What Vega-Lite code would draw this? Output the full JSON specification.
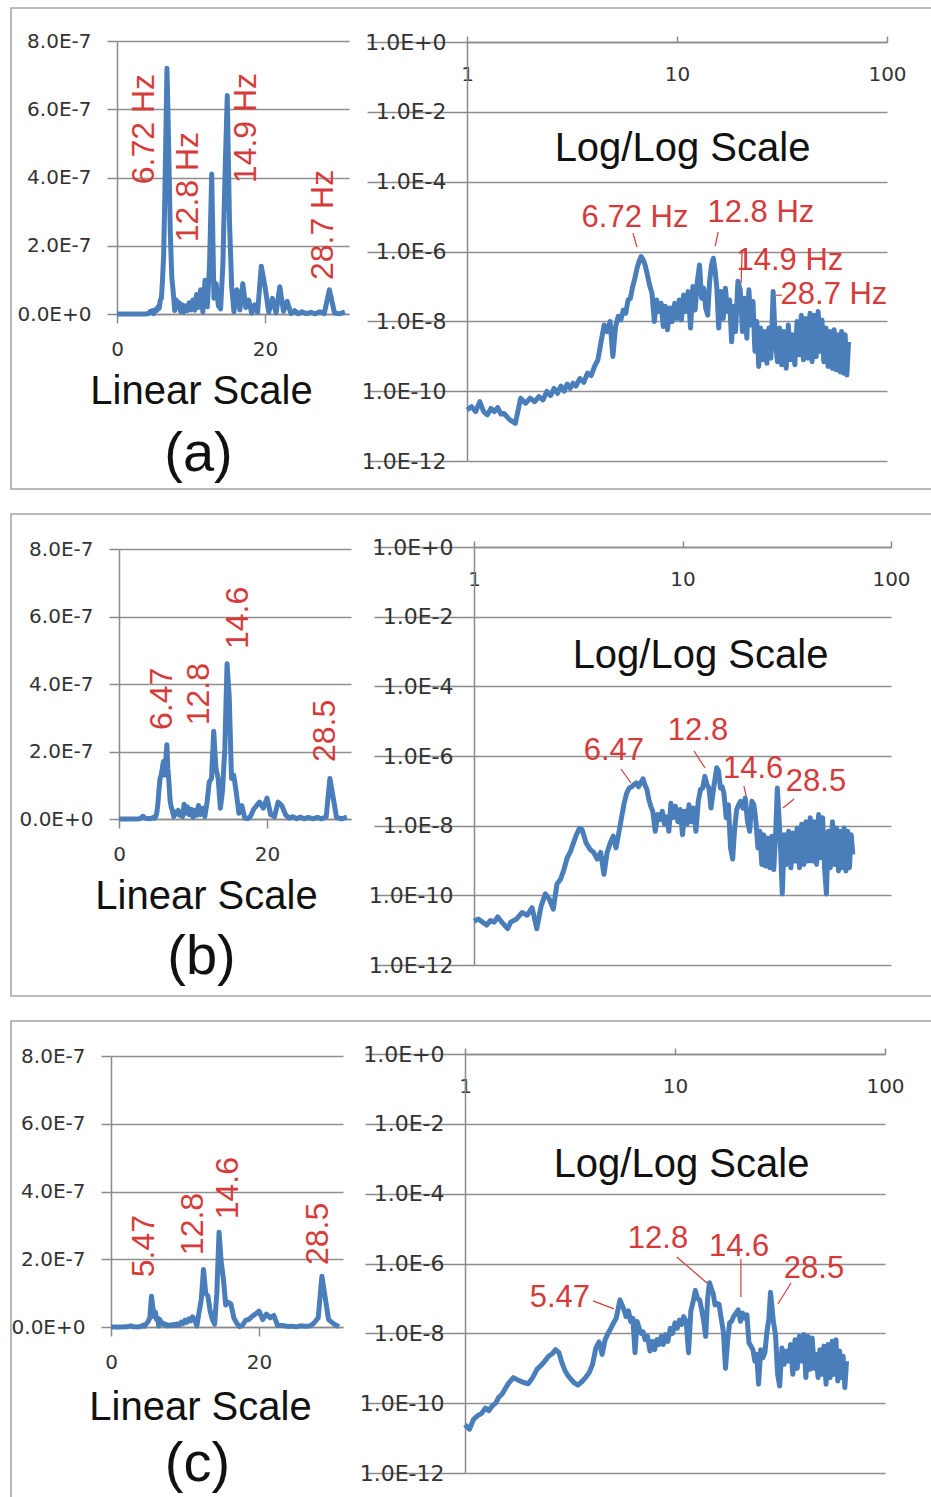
{
"$schema": "https://vega.github.io/schema/vega-lite/v6.json",
"background": "white",
"padding": {"left": 10, "top": 7, "right": 0, "bottom": 0},
"spacing": 25,
"bounds": "flush",
"config": {
  "view": {"stroke": "#a3a3a3", "strokeWidth": 1.5},
  "axis": {"labelFont": "DejaVu Sans", "labelFontSize": 20, "labelColor": "#333333", "domainColor": "#8a8a8a", "domainWidth": 1.5, "tickColor": "#8a8a8a", "tickWidth": 1.5, "gridColor": "#8f8f8f", "gridWidth": 1.5, "titleFont": "Liberation Sans", "titleFontWeight": "normal", "titleColor": "#111111", "labelFlush": false}
},
"datasets": {
"a": [{"f":0,"p":3e-11},{"f":1,"p":2.9e-11},{"f":1.05,"p":3.6e-11},{"f":1.1,"p":2.6e-11},{"f":1.15,"p":5.0e-11},{"f":1.2,"p":2.6e-11},{"f":1.25,"p":2.1e-11},{"f":1.3,"p":3.2e-11},{"f":1.35,"p":2.6e-11},{"f":1.4,"p":3.4e-11},{"f":1.45,"p":2.2e-11},{"f":1.5,"p":2.3e-11},{"f":1.6,"p":1.5e-11},{"f":1.7,"p":1.2e-11},{"f":1.8,"p":6.3e-11},{"f":1.9,"p":4.5e-11},{"f":2.0,"p":6.3e-11},{"f":2.1,"p":5.0e-11},{"f":2.2,"p":7.0e-11},{"f":2.3,"p":5.6e-11},{"f":2.4,"p":9.8e-11},{"f":2.5,"p":7.5e-11},{"f":2.6,"p":1.2e-10},{"f":2.7,"p":8.7e-11},{"f":2.8,"p":1.4e-10},{"f":2.9,"p":1.0e-10},{"f":3.0,"p":1.6e-10},{"f":3.1,"p":1.2e-10},{"f":3.2,"p":1.7e-10},{"f":3.3,"p":1.4e-10},{"f":3.45,"p":2.3e-10},{"f":3.6,"p":1.8e-10},{"f":3.75,"p":3.3e-10},{"f":3.9,"p":2.8e-10},{"f":4.05,"p":5.1e-10},{"f":4.2,"p":7.9e-10},{"f":4.35,"p":2.6e-9},{"f":4.5,"p":7.9e-9},{"f":4.65,"p":5.1e-9},{"f":4.8,"p":9.9e-9},{"f":4.95,"p":9.8e-10},{"f":5.1,"p":7.1e-9},{"f":5.25,"p":1.4e-8},{"f":5.4,"p":1.1e-8},{"f":5.55,"p":2.1e-8},{"f":5.7,"p":1.7e-8},{"f":5.85,"p":4.1e-8},{"f":6.0,"p":4.6e-8},{"f":6.15,"p":9.9e-8},{"f":6.3,"p":1.7e-7},{"f":6.45,"p":3.3e-7},{"f":6.6,"p":5.2e-7},{"f":6.75,"p":7.2e-7},{"f":6.9,"p":5.8e-7},{"f":7.05,"p":4.1e-7},{"f":7.2,"p":2.4e-7},{"f":7.4,"p":1.1e-7},{"f":7.6,"p":6.4e-8},{"f":7.8,"p":9.9e-9},{"f":8.0,"p":4.1e-8},{"f":8.2,"p":1.9e-8},{"f":8.4,"p":3.3e-8},{"f":8.6,"p":7.1e-9},{"f":8.8,"p":2.7e-8},{"f":9.0,"p":5.7e-9},{"f":9.25,"p":2.4e-8},{"f":9.5,"p":9.9e-9},{"f":9.75,"p":3.3e-8},{"f":10.0,"p":1.2e-8},{"f":10.25,"p":4.1e-8},{"f":10.5,"p":1.1e-8},{"f":10.75,"p":5.7e-8},{"f":11.0,"p":1.9e-8},{"f":11.3,"p":7.1e-8},{"f":11.6,"p":6.4e-9},{"f":11.9,"p":9.9e-8},{"f":12.2,"p":2.1e-8},{"f":12.5,"p":1.4e-7},{"f":12.8,"p":4.1e-7},{"f":13.1,"p":4.6e-8},{"f":13.4,"p":8.9e-8},{"f":13.7,"p":2.4e-8},{"f":14.0,"p":1.5e-8},{"f":14.3,"p":1.4e-7},{"f":14.6,"p":4.1e-7},{"f":14.9,"p":6.4e-7},{"f":15.2,"p":2.7e-7},{"f":15.5,"p":8.0e-8},{"f":15.8,"p":6.4e-9},{"f":16.2,"p":7.1e-8},{"f":16.6,"p":1.2e-8},{"f":17.0,"p":8.9e-8},{"f":17.4,"p":1.9e-8},{"f":17.8,"p":4.1e-8},{"f":18.2,"p":2.6e-9},{"f":18.6,"p":2.7e-8},{"f":19.0,"p":5.1e-9},{"f":19.5,"p":1.4e-7},{"f":20.0,"p":8.0e-8},{"f":20.5,"p":5.1e-9},{"f":21.0,"p":4.6e-8},{"f":21.5,"p":3.3e-9},{"f":22.0,"p":8.0e-8},{"f":22.5,"p":7.9e-9},{"f":23.0,"p":3.7e-8},{"f":23.5,"p":1.4e-9},{"f":24.0,"p":9.9e-9},{"f":24.5,"p":5.1e-10},{"f":25.0,"p":6.4e-9},{"f":25.6,"p":7.9e-10},{"f":26.2,"p":5.1e-9},{"f":26.8,"p":6.3e-10},{"f":27.4,"p":6.4e-9},{"f":28.0,"p":8.8e-10},{"f":28.7,"p":7.1e-8},{"f":29.4,"p":2.6e-9},{"f":30.1,"p":7.0e-10},{"f":30.8,"p":6.4e-9},{"f":31.5,"p":5.7e-10},{"f":32.3,"p":5.1e-9},{"f":33.1,"p":4.5e-10},{"f":33.9,"p":7.9e-9},{"f":34.7,"p":7.9e-10},{"f":35.5,"p":4.1e-9},{"f":36.4,"p":5.7e-10},{"f":37.3,"p":9.9e-9},{"f":38.2,"p":1.1e-9},{"f":39.1,"p":1.5e-8},{"f":40.0,"p":7.9e-10},{"f":41.0,"p":1.2e-8},{"f":42.0,"p":8.8e-10},{"f":43.0,"p":1.7e-8},{"f":44.0,"p":7.0e-10},{"f":45.0,"p":1.5e-8},{"f":46.0,"p":9.8e-10},{"f":47.0,"p":1.9e-8},{"f":48.0,"p":1.4e-9},{"f":49.0,"p":1.1e-8},{"f":50.0,"p":7.0e-10},{"f":51.2,"p":6.4e-9},{"f":52.4,"p":5.1e-10},{"f":53.6,"p":5.1e-9},{"f":54.8,"p":4.5e-10},{"f":56.0,"p":5.7e-9},{"f":57.2,"p":4.1e-10},{"f":58.4,"p":4.1e-9},{"f":59.6,"p":3.6e-10},{"f":60.8,"p":5.1e-9},{"f":62.0,"p":3.3e-10},{"f":63.2,"p":4.1e-9},{"f":64.4,"p":2.9e-10},{"f":65.6,"p":2.6e-9}],
"b": [{"f":0,"p":1.8e-11},{"f":1,"p":1.8e-11},{"f":1.05,"p":2.1e-11},{"f":1.1,"p":1.7e-11},{"f":1.15,"p":1.4e-11},{"f":1.2,"p":1.9e-11},{"f":1.25,"p":1.7e-11},{"f":1.3,"p":2.4e-11},{"f":1.35,"p":1.8e-11},{"f":1.4,"p":1.4e-11},{"f":1.45,"p":1.1e-11},{"f":1.5,"p":1.7e-11},{"f":1.6,"p":2.1e-11},{"f":1.7,"p":3.2e-11},{"f":1.8,"p":2.7e-11},{"f":1.9,"p":4.4e-11},{"f":2.0,"p":1.1e-11},{"f":2.1,"p":5.0e-11},{"f":2.2,"p":1.1e-10},{"f":2.3,"p":7.7e-11},{"f":2.4,"p":4.0e-11},{"f":2.5,"p":2.1e-10},{"f":2.6,"p":2.9e-10},{"f":2.7,"p":5.5e-10},{"f":2.8,"p":1.2e-9},{"f":2.9,"p":1.8e-9},{"f":3.0,"p":3.2e-9},{"f":3.1,"p":5.5e-9},{"f":3.2,"p":8.2e-9},{"f":3.3,"p":7.7e-9},{"f":3.45,"p":3.2e-9},{"f":3.6,"p":2.1e-9},{"f":3.75,"p":1.7e-9},{"f":3.9,"p":1.1e-9},{"f":4.05,"p":1.7e-9},{"f":4.2,"p":4.0e-10},{"f":4.35,"p":1.7e-9},{"f":4.5,"p":3.2e-9},{"f":4.65,"p":5.0e-9},{"f":4.8,"p":2.3e-9},{"f":4.95,"p":6.2e-9},{"f":5.1,"p":1.7e-8},{"f":5.25,"p":4.4e-8},{"f":5.4,"p":8.6e-8},{"f":5.55,"p":1.2e-7},{"f":5.7,"p":1.3e-7},{"f":5.85,"p":1.5e-7},{"f":6.0,"p":1.7e-7},{"f":6.15,"p":1.3e-7},{"f":6.3,"p":1.7e-7},{"f":6.47,"p":2.2e-7},{"f":6.6,"p":1.5e-7},{"f":6.75,"p":1.1e-7},{"f":6.9,"p":5.5e-8},{"f":7.05,"p":3.6e-8},{"f":7.2,"p":2.6e-8},{"f":7.4,"p":6.9e-9},{"f":7.6,"p":2.1e-8},{"f":7.8,"p":1.5e-8},{"f":8.0,"p":2.6e-8},{"f":8.2,"p":1.1e-8},{"f":8.4,"p":1.8e-8},{"f":8.6,"p":6.9e-9},{"f":8.8,"p":4.4e-8},{"f":9.0,"p":1.7e-8},{"f":9.25,"p":3.6e-8},{"f":9.5,"p":1.3e-8},{"f":9.75,"p":2.9e-8},{"f":10.0,"p":5.5e-9},{"f":10.25,"p":2.6e-8},{"f":10.5,"p":1.1e-8},{"f":10.75,"p":4.0e-8},{"f":11.0,"p":1.3e-8},{"f":11.3,"p":3.2e-8},{"f":11.6,"p":6.9e-9},{"f":11.9,"p":5.0e-8},{"f":12.2,"p":1.1e-7},{"f":12.5,"p":1.2e-7},{"f":12.8,"p":2.6e-7},{"f":13.1,"p":1.5e-7},{"f":13.4,"p":1.2e-7},{"f":13.7,"p":3.2e-8},{"f":14.0,"p":8.6e-8},{"f":14.3,"p":2.1e-7},{"f":14.6,"p":4.6e-7},{"f":14.9,"p":3.6e-7},{"f":15.2,"p":1.2e-7},{"f":15.5,"p":1.3e-7},{"f":15.8,"p":8.6e-8},{"f":16.2,"p":1.7e-8},{"f":16.6,"p":4.0e-8},{"f":17.0,"p":2.3e-9},{"f":17.4,"p":1.1e-9},{"f":17.8,"p":8.6e-9},{"f":18.2,"p":2.9e-8},{"f":18.6,"p":4.0e-8},{"f":19.0,"p":5.0e-8},{"f":19.5,"p":3.2e-8},{"f":20.0,"p":6.2e-8},{"f":20.5,"p":1.3e-8},{"f":21.0,"p":6.9e-9},{"f":21.5,"p":5.0e-8},{"f":22.0,"p":4.0e-8},{"f":22.5,"p":1.3e-8},{"f":23.0,"p":2.3e-9},{"f":23.5,"p":6.9e-9},{"f":24.0,"p":7.7e-10},{"f":24.5,"p":5.5e-9},{"f":25.0,"p":6.9e-10},{"f":25.6,"p":4.4e-9},{"f":26.2,"p":6.2e-10},{"f":26.8,"p":5.0e-9},{"f":27.4,"p":5.5e-10},{"f":28.0,"p":6.9e-9},{"f":28.5,"p":1.2e-7},{"f":29.4,"p":4.4e-9},{"f":30.1,"p":1.1e-10},{"f":30.8,"p":5.5e-9},{"f":31.5,"p":7.7e-10},{"f":32.3,"p":6.9e-9},{"f":33.1,"p":6.2e-10},{"f":33.9,"p":6.2e-9},{"f":34.7,"p":9.6e-10},{"f":35.5,"p":8.6e-9},{"f":36.4,"p":6.2e-10},{"f":37.3,"p":1.1e-8},{"f":38.2,"p":7.7e-10},{"f":39.1,"p":1.3e-8},{"f":40.0,"p":9.6e-10},{"f":41.0,"p":1.7e-8},{"f":42.0,"p":9.6e-10},{"f":43.0,"p":1.3e-8},{"f":44.0,"p":7.7e-10},{"f":45.0,"p":2.1e-8},{"f":46.0,"p":1.2e-9},{"f":47.0,"p":1.7e-8},{"f":48.0,"p":6.2e-10},{"f":49.0,"p":1.1e-10},{"f":50.0,"p":6.9e-9},{"f":51.2,"p":6.2e-10},{"f":52.4,"p":1.3e-8},{"f":53.6,"p":7.7e-10},{"f":54.8,"p":8.6e-9},{"f":56.0,"p":5.0e-10},{"f":57.2,"p":6.9e-9},{"f":58.4,"p":6.2e-10},{"f":59.6,"p":8.6e-9},{"f":60.8,"p":5.0e-10},{"f":62.0,"p":6.9e-9},{"f":63.2,"p":6.2e-10},{"f":64.4,"p":5.5e-9},{"f":65.6,"p":1.5e-9}],
"c": [{"f":0,"p":2.4e-11},{"f":1,"p":2.4e-11},{"f":1.05,"p":1.8e-11},{"f":1.1,"p":3.5e-11},{"f":1.15,"p":4.4e-11},{"f":1.2,"p":5.1e-11},{"f":1.25,"p":7.2e-11},{"f":1.3,"p":6.1e-11},{"f":1.35,"p":8.4e-11},{"f":1.4,"p":1.0e-10},{"f":1.45,"p":1.5e-10},{"f":1.5,"p":1.8e-10},{"f":1.6,"p":3.5e-10},{"f":1.7,"p":5.4e-10},{"f":1.8,"p":4.5e-10},{"f":1.9,"p":3.9e-10},{"f":2.0,"p":3.6e-10},{"f":2.1,"p":5.4e-10},{"f":2.2,"p":9.3e-10},{"f":2.3,"p":1.2e-9},{"f":2.4,"p":1.6e-9},{"f":2.5,"p":2.2e-9},{"f":2.6,"p":2.6e-9},{"f":2.7,"p":3.4e-9},{"f":2.8,"p":2.8e-9},{"f":2.9,"p":1.4e-9},{"f":3.0,"p":8.3e-10},{"f":3.1,"p":6.0e-10},{"f":3.2,"p":4.8e-10},{"f":3.3,"p":3.9e-10},{"f":3.45,"p":3.3e-10},{"f":3.6,"p":4.1e-10},{"f":3.75,"p":5.4e-10},{"f":3.9,"p":7.4e-10},{"f":4.05,"p":1.3e-9},{"f":4.2,"p":3.8e-9},{"f":4.35,"p":5.7e-9},{"f":4.5,"p":2.5e-9},{"f":4.65,"p":6.6e-9},{"f":4.8,"p":1.0e-8},{"f":4.95,"p":1.4e-8},{"f":5.1,"p":2.0e-8},{"f":5.25,"p":2.7e-8},{"f":5.47,"p":9.1e-8},{"f":5.7,"p":5.0e-8},{"f":5.85,"p":3.0e-8},{"f":6.0,"p":4.4e-8},{"f":6.15,"p":2.2e-8},{"f":6.3,"p":2.7e-8},{"f":6.45,"p":2.8e-9},{"f":6.6,"p":2.2e-8},{"f":6.75,"p":1.4e-8},{"f":6.9,"p":1.0e-8},{"f":7.05,"p":1.1e-8},{"f":7.2,"p":6.6e-9},{"f":7.4,"p":8.2e-9},{"f":7.6,"p":3.1e-9},{"f":7.8,"p":5.9e-9},{"f":8.0,"p":3.4e-9},{"f":8.2,"p":6.6e-9},{"f":8.4,"p":4.8e-9},{"f":8.6,"p":8.2e-9},{"f":8.8,"p":4.8e-9},{"f":9.0,"p":9.2e-9},{"f":9.25,"p":5.9e-9},{"f":9.5,"p":1.4e-8},{"f":9.75,"p":1.0e-8},{"f":10.0,"p":2.0e-8},{"f":10.25,"p":1.4e-8},{"f":10.5,"p":2.4e-8},{"f":10.75,"p":1.8e-8},{"f":11.0,"p":3.0e-8},{"f":11.3,"p":2.2e-8},{"f":11.6,"p":2.8e-9},{"f":11.9,"p":4.4e-8},{"f":12.2,"p":8.1e-8},{"f":12.5,"p":1.7e-7},{"f":12.8,"p":1.0e-7},{"f":13.1,"p":9.1e-8},{"f":13.4,"p":4.7e-8},{"f":13.7,"p":2.2e-8},{"f":14.0,"p":8.2e-9},{"f":14.3,"p":1.0e-7},{"f":14.6,"p":2.8e-7},{"f":14.9,"p":1.9e-7},{"f":15.2,"p":1.4e-7},{"f":15.5,"p":6.5e-8},{"f":15.8,"p":7.3e-8},{"f":16.2,"p":6.8e-8},{"f":16.6,"p":2.7e-8},{"f":17.0,"p":1.1e-8},{"f":17.4,"p":1.0e-9},{"f":17.8,"p":5.9e-9},{"f":18.2,"p":2.0e-8},{"f":18.6,"p":2.2e-8},{"f":19.0,"p":3.0e-8},{"f":19.5,"p":3.8e-8},{"f":20.0,"p":4.7e-8},{"f":20.5,"p":2.2e-8},{"f":21.0,"p":3.8e-8},{"f":21.5,"p":2.7e-8},{"f":22.0,"p":3.4e-8},{"f":22.5,"p":5.3e-9},{"f":23.0,"p":4.3e-9},{"f":23.5,"p":3.4e-9},{"f":24.0,"p":1.6e-9},{"f":24.5,"p":2.5e-9},{"f":25.0,"p":3.5e-10},{"f":25.6,"p":3.4e-9},{"f":26.2,"p":2.0e-9},{"f":26.8,"p":2.8e-9},{"f":27.4,"p":1.1e-8},{"f":28.0,"p":2.7e-8},{"f":28.5,"p":1.5e-7},{"f":29.4,"p":2.2e-8},{"f":30.1,"p":9.2e-9},{"f":30.8,"p":6.7e-10},{"f":31.5,"p":3.1e-10},{"f":32.3,"p":3.8e-9},{"f":33.1,"p":1.3e-9},{"f":33.9,"p":3.1e-9},{"f":34.7,"p":1.6e-9},{"f":35.5,"p":4.8e-9},{"f":36.4,"p":6.7e-10},{"f":37.3,"p":6.6e-9},{"f":38.2,"p":1.0e-9},{"f":39.1,"p":8.2e-9},{"f":40.0,"p":1.6e-9},{"f":41.0,"p":9.2e-9},{"f":42.0,"p":5.4e-10},{"f":43.0,"p":8.2e-9},{"f":44.0,"p":9.3e-10},{"f":45.0,"p":7.4e-9},{"f":46.0,"p":1.0e-9},{"f":47.0,"p":2.5e-9},{"f":48.0,"p":5.4e-10},{"f":49.0,"p":3.4e-9},{"f":50.0,"p":6.7e-10},{"f":51.2,"p":4.3e-9},{"f":52.4,"p":3.5e-10},{"f":53.6,"p":4.8e-9},{"f":54.8,"p":5.4e-10},{"f":56.0,"p":5.9e-9},{"f":57.2,"p":6.7e-10},{"f":58.4,"p":6.6e-9},{"f":59.6,"p":4.3e-10},{"f":60.8,"p":3.1e-9},{"f":62.0,"p":5.4e-10},{"f":63.2,"p":2.2e-9},{"f":64.4,"p":2.8e-10},{"f":65.6,"p":1.6e-9}],
"lab_a": [{"panel":"lin","label":"6.72 Hz","f":3.65,"p":5.42e-7},{"panel":"lin","label":"12.8 Hz","f":9.59,"p":3.72e-7},{"panel":"lin","label":"14.9 Hz","f":17.43,"p":5.45e-7},{"panel":"lin","label":"28.7 Hz","f":27.84,"p":2.61e-7},{"panel":"log","label":"6.72 Hz","f":6.31,"p":9.06e-6},{"panel":"log","label":"12.8 Hz","f":25.1,"p":1.26e-5},{"panel":"log","label":"14.9 Hz","f":34.5,"p":5.3e-7},{"panel":"log","label":"28.7 Hz","f":55.9,"p":5.6e-8}],
"lead_a": [{"f":6.17,"p":3.37e-6,"f2":6.45,"p2":1.34e-6},{"f":15.7,"p":3.6e-6,"f2":15.2,"p2":1.43e-6},{"f":20.4,"p":9.6e-7,"f2":20.2,"p2":1.24e-7},{"f":29.6,"p":5.6e-8,"f2":31.6,"p2":5.6e-8}],
"lab_b": [{"panel":"lin","label":"6.47","f":5.81,"p":3.56e-7},{"panel":"lin","label":"12.8","f":10.81,"p":3.70e-7},{"panel":"lin","label":"14.6","f":16.08,"p":5.96e-7},{"panel":"lin","label":"28.5","f":27.84,"p":2.61e-7},{"panel":"log","label":"6.47","f":4.69,"p":1.39e-6},{"panel":"log","label":"12.8","f":11.87,"p":5.21e-6},{"panel":"log","label":"14.6","f":21.8,"p":4.23e-7},{"panel":"log","label":"28.5","f":43.7,"p":1.79e-7}],
"lead_b": [{"f":5.07,"p":4.23e-7,"f2":5.66,"p2":1.68e-7},{"f":11.36,"p":1.39e-6,"f2":12.82,"p2":4.52e-7},{"f":19.7,"p":1.37e-7,"f2":20.2,"p2":7.1e-8},{"f":34.3,"p":5.8e-8,"f2":30.3,"p2":3.2e-8}],
"lab_c": [{"panel":"lin","label":"5.47","f":4.46,"p":2.39e-7},{"panel":"lin","label":"12.8","f":11.08,"p":3.04e-7},{"panel":"lin","label":"14.6","f":15.81,"p":4.10e-7},{"panel":"lin","label":"28.5","f":27.97,"p":2.75e-7},{"panel":"log","label":"5.47","f":2.83,"p":1.03e-7},{"panel":"log","label":"12.8","f":8.30,"p":5.04e-6},{"panel":"log","label":"14.6","f":20.2,"p":2.97e-6},{"panel":"log","label":"28.5","f":45.9,"p":6.97e-7}],
"lead_c": [{"f":4.07,"p":8.5e-8,"f2":5.12,"p2":5.0e-8},{"f":10.2,"p":1.54e-6,"f2":14.2,"p2":2.77e-7},{"f":20.6,"p":1.35e-6,"f2":20.6,"p2":1.1e-7},{"f":35.7,"p":2.77e-7,"f2":30.9,"p2":6.9e-8}]
},
"vconcat": [
{
 "width": 921, "height": 481,
 "resolve": {"scale": {"x": "independent", "y": "independent"}, "axis": {"x": "independent", "y": "independent"}},
 "layer": [
  {"layer": [
   {"data": {"name": "a"}, "transform": [{"filter": "datum.f <= 31.4"}],
    "mark": {"type": "line", "color": "#4a7ebb", "strokeWidth": 5, "strokeJoin": "round"},
    "encoding": {
     "x": {"field": "f", "type": "quantitative", "scale": {"domain": [0, 31.35], "range": [106, 338], "nice": false, "zero": false},
      "axis": {"orient": "bottom", "offset": -175, "values": [0, 20], "format": "d", "grid": false, "tickSize": 9, "labelPadding": 26, "labelBaseline": "middle", "title": "Linear Scale", "titleFontSize": 40, "titleX": 190, "titleY": 77, "titleAlign": "center", "titleBaseline": "middle"}},
     "y": {"field": "p", "type": "quantitative", "scale": {"domain": [0, 8e-7], "range": [306, 33], "nice": false, "zero": false},
      "axis": {"orient": "left", "offset": -106, "values": [0, 2e-7, 4e-7, 6e-7, 8e-7], "labelExpr": "replace(format(datum.value, '.1e'), 'e', 'E')", "grid": true, "tickSize": 10, "labelPadding": 16, "title": "(a)", "titleFontSize": 56, "titleAngle": 0, "titleX": 81, "titleY": 445, "titleAlign": "center", "titleBaseline": "middle"}}
    }},
   {"data": {"name": "lab_a"}, "transform": [{"filter": "datum.panel == 'lin'"}],
    "mark": {"type": "text", "angle": 270, "font": "Liberation Sans", "fontSize": 32, "color": "#d63b3b", "align": "center", "baseline": "middle"},
    "encoding": {"x": {"field": "f", "type": "quantitative"}, "y": {"field": "p", "type": "quantitative"}, "text": {"field": "label"}}}
  ]},
  {"layer": [
   {"data": {"name": "a"}, "transform": [{"filter": "datum.f >= 1"}],
    "mark": {"type": "line", "color": "#4a7ebb", "strokeWidth": 5, "strokeJoin": "round"},
    "encoding": {
     "x": {"field": "f", "type": "quantitative", "scale": {"type": "log", "domain": [1, 100], "range": [456, 876], "nice": false},
      "axis": {"orient": "top", "offset": -34, "values": [1, 10, 100], "format": "d", "grid": false, "tickSize": 6, "labelPadding": -38, "labelBaseline": "middle", "title": "Log/Log Scale", "titleFontSize": 40, "titleX": 671, "titleY": 106, "titleAlign": "center", "titleBaseline": "middle"}},
     "y": {"field": "p", "type": "quantitative", "scale": {"type": "log", "domain": [1e-12, 1], "range": [453, 34], "nice": false},
      "axis": {"orient": "left", "offset": -456, "values": [1, 0.01, 0.0001, 1e-6, 1e-8, 1e-10, 1e-12], "labelExpr": "replace(format(datum.value, '.1e'), 'e', 'E')", "grid": true, "tickSize": 100, "labelPadding": -79, "labelFontSize": 22, "title": null}}
    }},
   {"data": {"name": "lab_a"}, "transform": [{"filter": "datum.panel == 'log'"}],
    "mark": {"type": "text", "font": "Liberation Sans", "fontSize": 31, "color": "#d63b3b", "align": "center", "baseline": "middle"},
    "encoding": {"x": {"field": "f", "type": "quantitative", "scale": {"type": "log", "domain": [1, 100], "range": [456, 876], "nice": false}}, "y": {"field": "p", "type": "quantitative", "scale": {"type": "log", "domain": [1e-12, 1], "range": [453, 34], "nice": false}}, "text": {"field": "label"}}},
   {"data": {"name": "lead_a"},
    "mark": {"type": "rule", "color": "#d63b3b", "strokeWidth": 1.2},
    "encoding": {"x": {"field": "f", "type": "quantitative", "scale": {"type": "log", "domain": [1, 100], "range": [456, 876], "nice": false}}, "x2": {"field": "f2"}, "y": {"field": "p", "type": "quantitative", "scale": {"type": "log", "domain": [1e-12, 1], "range": [453, 34], "nice": false}}, "y2": {"field": "p2"}}}
  ]}
 ]
},
{
 "width": 921, "height": 482,
 "resolve": {"scale": {"x": "independent", "y": "independent"}, "axis": {"x": "independent", "y": "independent"}},
 "layer": [
  {"layer": [
   {"data": {"name": "b"}, "transform": [{"filter": "datum.f <= 31.4"}],
    "mark": {"type": "line", "color": "#4a7ebb", "strokeWidth": 5, "strokeJoin": "round"},
    "encoding": {
     "x": {"field": "f", "type": "quantitative", "scale": {"domain": [0, 31.35], "range": [108, 340], "nice": false, "zero": false},
      "axis": {"orient": "bottom", "offset": -177, "values": [0, 20], "format": "d", "grid": false, "tickSize": 9, "labelPadding": 26, "labelBaseline": "middle", "title": "Linear Scale", "titleFontSize": 40, "titleX": 195, "titleY": 77, "titleAlign": "center", "titleBaseline": "middle"}},
     "y": {"field": "p", "type": "quantitative", "scale": {"domain": [0, 8e-7], "range": [305, 35], "nice": false, "zero": false},
      "axis": {"orient": "left", "offset": -108, "values": [0, 2e-7, 4e-7, 6e-7, 8e-7], "labelExpr": "replace(format(datum.value, '.1e'), 'e', 'E')", "grid": true, "tickSize": 10, "labelPadding": 16, "title": "(b)", "titleFontSize": 56, "titleAngle": 0, "titleX": 82, "titleY": 442, "titleAlign": "center", "titleBaseline": "middle"}}
    }},
   {"data": {"name": "lab_b"}, "transform": [{"filter": "datum.panel == 'lin'"}],
    "mark": {"type": "text", "angle": 270, "font": "Liberation Sans", "fontSize": 32, "color": "#d63b3b", "align": "center", "baseline": "middle"},
    "encoding": {"x": {"field": "f", "type": "quantitative"}, "y": {"field": "p", "type": "quantitative"}, "text": {"field": "label"}}}
  ]},
  {"layer": [
   {"data": {"name": "b"}, "transform": [{"filter": "datum.f >= 1"}],
    "mark": {"type": "line", "color": "#4a7ebb", "strokeWidth": 5, "strokeJoin": "round"},
    "encoding": {
     "x": {"field": "f", "type": "quantitative", "scale": {"type": "log", "domain": [1, 100], "range": [463, 880], "nice": false},
      "axis": {"orient": "top", "offset": -33, "values": [1, 10, 100], "format": "d", "grid": false, "tickSize": 6, "labelPadding": -38, "labelBaseline": "middle", "title": "Log/Log Scale", "titleFontSize": 40, "titleX": 689, "titleY": 108, "titleAlign": "center", "titleBaseline": "middle"}},
     "y": {"field": "p", "type": "quantitative", "scale": {"type": "log", "domain": [1e-12, 1], "range": [451, 33], "nice": false},
      "axis": {"orient": "left", "offset": -463, "values": [1, 0.01, 0.0001, 1e-6, 1e-8, 1e-10, 1e-12], "labelExpr": "replace(format(datum.value, '.1e'), 'e', 'E')", "grid": true, "tickSize": 100, "labelPadding": -79, "labelFontSize": 22, "title": null}}
    }},
   {"data": {"name": "lab_b"}, "transform": [{"filter": "datum.panel == 'log'"}],
    "mark": {"type": "text", "font": "Liberation Sans", "fontSize": 31, "color": "#d63b3b", "align": "center", "baseline": "middle"},
    "encoding": {"x": {"field": "f", "type": "quantitative", "scale": {"type": "log", "domain": [1, 100], "range": [463, 880], "nice": false}}, "y": {"field": "p", "type": "quantitative", "scale": {"type": "log", "domain": [1e-12, 1], "range": [451, 33], "nice": false}}, "text": {"field": "label"}}},
   {"data": {"name": "lead_b"},
    "mark": {"type": "rule", "color": "#d63b3b", "strokeWidth": 1.2},
    "encoding": {"x": {"field": "f", "type": "quantitative", "scale": {"type": "log", "domain": [1, 100], "range": [463, 880], "nice": false}}, "x2": {"field": "f2"}, "y": {"field": "p", "type": "quantitative", "scale": {"type": "log", "domain": [1e-12, 1], "range": [451, 33], "nice": false}}, "y2": {"field": "p2"}}}
  ]}
 ]
},
{
 "width": 921, "height": 479,
 "resolve": {"scale": {"x": "independent", "y": "independent"}, "axis": {"x": "independent", "y": "independent"}},
 "layer": [
  {"layer": [
   {"data": {"name": "c"}, "transform": [{"filter": "datum.f <= 31.4"}],
    "mark": {"type": "line", "color": "#4a7ebb", "strokeWidth": 5, "strokeJoin": "round"},
    "encoding": {
     "x": {"field": "f", "type": "quantitative", "scale": {"domain": [0, 31.35], "range": [100, 332], "nice": false, "zero": false},
      "axis": {"orient": "bottom", "offset": -173, "values": [0, 20], "format": "d", "grid": false, "tickSize": 9, "labelPadding": 26, "labelBaseline": "middle", "title": "Linear Scale", "titleFontSize": 40, "titleX": 189, "titleY": 80, "titleAlign": "center", "titleBaseline": "middle"}},
     "y": {"field": "p", "type": "quantitative", "scale": {"domain": [0, 8e-7], "range": [306, 35], "nice": false, "zero": false},
      "axis": {"orient": "left", "offset": -100, "values": [0, 2e-7, 4e-7, 6e-7, 8e-7], "labelExpr": "replace(format(datum.value, '.1e'), 'e', 'E')", "grid": true, "tickSize": 10, "labelPadding": 16, "title": "(c)", "titleFontSize": 56, "titleAngle": 0, "titleX": 86, "titleY": 442, "titleAlign": "center", "titleBaseline": "middle"}}
    }},
   {"data": {"name": "lab_c"}, "transform": [{"filter": "datum.panel == 'lin'"}],
    "mark": {"type": "text", "angle": 270, "font": "Liberation Sans", "fontSize": 32, "color": "#d63b3b", "align": "center", "baseline": "middle"},
    "encoding": {"x": {"field": "f", "type": "quantitative"}, "y": {"field": "p", "type": "quantitative"}, "text": {"field": "label"}}}
  ]},
  {"layer": [
   {"data": {"name": "c"}, "transform": [{"filter": "datum.f >= 1"}],
    "mark": {"type": "line", "color": "#4a7ebb", "strokeWidth": 5, "strokeJoin": "round"},
    "encoding": {
     "x": {"field": "f", "type": "quantitative", "scale": {"type": "log", "domain": [1, 100], "range": [454, 874], "nice": false},
      "axis": {"orient": "top", "offset": -33, "values": [1, 10, 100], "format": "d", "grid": false, "tickSize": 6, "labelPadding": -38, "labelBaseline": "middle", "title": "Log/Log Scale", "titleFontSize": 40, "titleX": 670, "titleY": 110, "titleAlign": "center", "titleBaseline": "middle"}},
     "y": {"field": "p", "type": "quantitative", "scale": {"type": "log", "domain": [1e-12, 1], "range": [452, 33], "nice": false},
      "axis": {"orient": "left", "offset": -454, "values": [1, 0.01, 0.0001, 1e-6, 1e-8, 1e-10, 1e-12], "labelExpr": "replace(format(datum.value, '.1e'), 'e', 'E')", "grid": true, "tickSize": 100, "labelPadding": -79, "labelFontSize": 22, "title": null}}
    }},
   {"data": {"name": "lab_c"}, "transform": [{"filter": "datum.panel == 'log'"}],
    "mark": {"type": "text", "font": "Liberation Sans", "fontSize": 31, "color": "#d63b3b", "align": "center", "baseline": "middle"},
    "encoding": {"x": {"field": "f", "type": "quantitative", "scale": {"type": "log", "domain": [1, 100], "range": [454, 874], "nice": false}}, "y": {"field": "p", "type": "quantitative", "scale": {"type": "log", "domain": [1e-12, 1], "range": [452, 33], "nice": false}}, "text": {"field": "label"}}},
   {"data": {"name": "lead_c"},
    "mark": {"type": "rule", "color": "#d63b3b", "strokeWidth": 1.2},
    "encoding": {"x": {"field": "f", "type": "quantitative", "scale": {"type": "log", "domain": [1, 100], "range": [454, 874], "nice": false}}, "x2": {"field": "f2"}, "y": {"field": "p", "type": "quantitative", "scale": {"type": "log", "domain": [1e-12, 1], "range": [452, 33], "nice": false}}, "y2": {"field": "p2"}}}
  ]}
 ]
}
]
}
